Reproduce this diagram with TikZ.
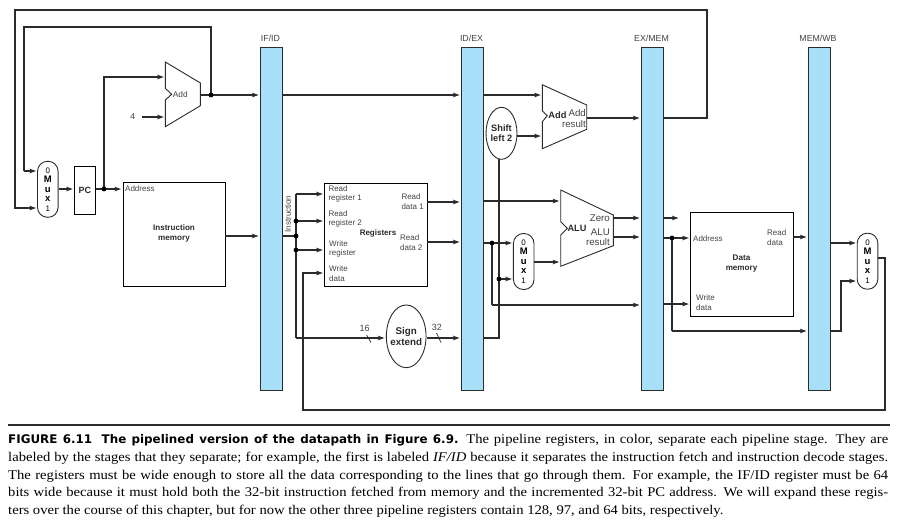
\documentclass[tikz,border=0pt]{standalone}
\usepackage{fontspec}
\setmainfont{Liberation Sans}
\newfontfamily\capserif[FakeStretch=1.1]{Liberation Serif}
\newfontfamily\capheavy{DejaVu Sans}
\usetikzlibrary{arrows.meta,shapes.geometric}
\definecolor{regblue}{HTML}{A8E0FA}
\definecolor{ink}{HTML}{2B2B2B}
\definecolor{softink}{HTML}{444444}
\tikzset{
  wire/.style={draw=ink,line width=1.3pt,line join=miter},
  arr/.style={wire,-{Stealth[length=6.5pt,width=4.5pt,inset=1.5pt]},shorten >=1.5pt},
  pipereg/.style={draw=ink,fill=regblue,line width=0.9pt,minimum width=22.4pt,minimum height=343pt,inner sep=0pt,anchor=north west},
  block/.style={draw=black,line width=0.9pt,fill=white,inner sep=0pt,anchor=north west},
  muxbox/.style={draw=ink,line width=0.9pt,fill=white,rounded corners=10pt,minimum width=20.6pt,minimum height=56pt,inner sep=0pt,align=center,font=\fontsize{9.5}{9.5}\selectfont\bfseries},
  oval/.style={draw=ink,line width=0.9pt,fill=white,ellipse,inner sep=-3pt,align=center},
  aluface/.style={draw=ink,line width=0.9pt,fill=white,line join=miter},
  dot/.style={circle,fill=black,inner sep=0pt,minimum size=4.8pt},
  lab/.style={inner sep=0pt,text=softink,align=left,font=\fontsize{8}{9.8}\selectfont},
  labc/.style={inner sep=0pt,text=softink,align=center,font=\fontsize{9.7}{11}\selectfont},
  blab/.style={inner sep=0pt,text=ink,align=center,font=\fontsize{8.1}{10}\selectfont\bfseries},
  regname/.style={inner sep=0pt,text=softink,font=\fontsize{8.8}{10}\selectfont},
}
\newcommand{\muxtext}{{\mdseries\fontsize{8}{9.5}\selectfont 0}\\M\\u\\x\\{\mdseries\fontsize{8}{9.5}\selectfont 1}}
\begin{document}
\begin{tikzpicture}[x=1pt,y=-1pt]
\useasboundingbox (0,0) rectangle (901,523);
\fill[white] (0,0) rectangle (901,523);

% pipeline registers
\node[pipereg] (ifid) at (260,47) {};
\node[pipereg] (idex) at (461,47) {};
\node[pipereg] (exmem) at (641,47) {};
\node[pipereg] (memwb) at (808,47) {};
\node[regname] (ifidl) at (270.5,38) {IF/ID};
\node[regname] (idexl) at (471.5,38) {ID/EX};
\node[regname] (exmeml) at (651.5,38) {EX/MEM};
\node[regname] (memwbl) at (818,38) {MEM/WB};

% blocks
\node[muxbox] (muxa) at (47.8,189.3) {\muxtext};
\node[block,minimum width=20.4pt,minimum height=48pt,font=\fontsize{9}{10}\selectfont\bfseries,text=ink] (pc) at (74.3,166) {PC};
\node[block,minimum width=102pt,minimum height=104pt] (imem) at (122.5,182) {};
\node[block,minimum width=102.4pt,minimum height=103.6pt] (regs) at (324.3,182.7) {};
\node[block,minimum width=102.4pt,minimum height=104pt] (dmem) at (690.3,212.3) {};
\node[muxbox] (muxb) at (523.7,261.5) {\muxtext};
\node[muxbox] (muxc) at (867.5,261.2) {\muxtext};
\node[oval,minimum width=39.7pt,minimum height=62.7pt,font=\fontsize{9.8}{10.5}\selectfont\bfseries,text=ink] (sign) at (406.2,336.3) {Sign\\extend};
\node[oval,minimum width=31pt,minimum height=52pt,font=\fontsize{9.3}{10.5}\selectfont\bfseries,text=ink] (shift) at (501.5,133.3) {Shift\\left 2};

% adders and ALU
\draw[aluface] (165.3,62) -- (200.4,83) -- (200.4,105.7) -- (165.3,126.7) -- (165.3,100) -- (171.7,94.3) -- (165.3,88.3) -- cycle;
\draw[aluface] (542.3,84.7) -- (586.7,105) -- (586.7,129.3) -- (542.3,148.7) -- (542.3,121.7) -- (547.3,115.7) -- (542.3,110.7) -- cycle;
\draw[aluface] (560.7,190) -- (613.3,215) -- (613.3,245.7) -- (560.7,266.3) -- (560.7,235) -- (567.3,228.3) -- (560.7,221.7) -- cycle;

% ports and bends
\coordinate (addaout) at (200.4,95);
\coordinate (addain) at (165.3,77);
\coordinate (addafour) at (165.3,117);
\coordinate (addbout) at (586.7,118);
\coordinate (addbina) at (542.3,95);
\coordinate (addbinb) at (542.3,136);
\coordinate (aluina) at (560.7,201);
\coordinate (aluinb) at (560.7,262);
\coordinate (aluzero) at (613.3,218);
\coordinate (aluout) at (613.3,237);
\coordinate (fourstart) at (142,117);
\coordinate (outertop) at (15,10);
\coordinate (outerright) at (707,10);
\coordinate (innertop) at (24,27);
\coordinate (muxaina) at (37.5,171);
\coordinate (muxainb) at (37.5,208);
\coordinate (rega) at (324.3,194);
\coordinate (regb) at (324.3,221);
\coordinate (regc) at (324.3,250);
\coordinate (regd) at (324.3,273);
\coordinate (rdone) at (426.7,202);
\coordinate (rdtwo) at (426.7,242);
\coordinate (dmaddr) at (690.3,238);
\coordinate (dmwrite) at (690.3,304);
\coordinate (dmread) at (792.7,237);
\coordinate (muxbina) at (513.4,243);
\coordinate (muxbinb) at (513.4,279);
\coordinate (muxcina) at (857.2,243);
\coordinate (muxcinb) at (857.2,281);
\coordinate (busbase) at (296,338);
\coordinate (bustop) at (296,194);
\coordinate (wbright) at (885,258);
\coordinate (wbbottom) at (885,410);
\coordinate (wbleft) at (303,410);
\coordinate (shiftjoin) at (499,338);
\coordinate (hazardstep) at (841,331);
\coordinate (shiftbottom) at (499,159);
\coordinate (zerostub) at (680,218);
\coordinate (rdtwodown) at (492,305);
\coordinate (aludown) at (672,331);

% junction positions
\coordinate (cpc) at (104,189);
\coordinate (cadd) at (211,95);
\coordinate (cbusa) at (296,221);
\coordinate (cbusb) at (296,236);
\coordinate (cbusc) at (296,250);
\coordinate (crdtwo) at (492,243);
\coordinate (cshift) at (499,279);
\coordinate (calu) at (672,238);

% connectors: fetch
\draw[wire] (addaout) -- (cadd);
\draw[arr] (cadd) -- (cadd -| ifid.west);
\draw[wire] (cadd) -- (innertop -| cadd) -- (innertop) -- (innertop |- muxaina);
\draw[arr] (innertop |- muxaina) -- (muxaina);
\draw[arr] (exmem.east |- addbout) -- (outerright |- addbout) -- (outerright) -- (outertop) -- (outertop |- muxainb) -- (muxainb);
\draw[arr] (muxa.east |- cpc) -- (pc.west |- cpc);
\draw[wire] (pc.east |- cpc) -- (cpc);
\draw[arr] (cpc) -- (imem.west |- cpc);
\draw[arr] (cpc) -- (cpc |- addain) -- (addain);
\draw[arr] (fourstart) -- (addafour);
\draw[arr] (imem.east |- cbusb) -- (cbusb -| ifid.west);
\draw[arr] (ifid.east |- cadd) -- (idex.west |- cadd);
\draw[arr] (idex.east |- addbina) -- (addbina);

% connectors: decode
\draw[wire] (ifid.east |- cbusb) -- (cbusb);
\draw[wire] (bustop) -- (busbase);
\draw[arr] (bustop) -- (rega);
\draw[arr] (cbusa) -- (regb);
\draw[arr] (cbusc) -- (regc);
\draw[arr] (busbase) -- (busbase -| sign.west);
\draw[arr] (busbase -| sign.east) -- (busbase -| idex.west);
\draw[arr] (rdone) -- (rdone -| idex.west);
\draw[arr] (rdtwo) -- (rdtwo -| idex.west);
\draw[arr] (wbright -| muxc.east) -- (wbright) -- (wbbottom) -- (wbleft) -- (wbleft |- regd) -- (regd);

% connectors: execute
\draw[arr] (idex.east |- aluina) -- (aluina);
\draw[wire] (idex.east |- crdtwo) -- (crdtwo);
\draw[arr] (crdtwo) -- (muxbina);
\draw[wire] (crdtwo) -- (rdtwodown);
\draw[arr] (rdtwodown) -- (rdtwodown -| exmem.west);
\draw[wire] (idex.east |- shiftjoin) -- (shiftjoin) -- (shiftbottom);
\draw[arr] (cshift) -- (muxbinb);
\draw[arr] (shift.east |- addbinb) -- (addbinb);
\draw[arr] (muxb.east |- aluinb) -- (aluinb);
\draw[arr] (addbout) -- (addbout -| exmem.west);
\draw[arr] (aluzero) -- (aluzero -| exmem.west);
\draw[arr] (aluout) -- (aluout -| exmem.west);

% connectors: memory and write back
\draw[arr] (exmem.east |- zerostub) -- (zerostub);
\draw[wire] (exmem.east |- calu) -- (calu);
\draw[arr] (calu) -- (dmaddr);
\draw[wire] (calu) -- (aludown);
\draw[arr] (aludown) -- (aludown -| memwb.west);
\draw[arr] (exmem.east |- dmwrite) -- (dmwrite);
\draw[arr] (dmread) -- (dmread -| memwb.west);
\draw[arr] (memwb.east |- muxcina) -- (muxcina);
\draw[arr] (memwb.east |- aludown) -- (hazardstep) -- (hazardstep |- muxcinb) -- (muxcinb);

% junction dots, on top of the wires
\node[dot] (jpc) at (cpc) {};
\node[dot] (jadd) at (cadd) {};
\node[dot] (jbusa) at (cbusa) {};
\node[dot] (jbusb) at (cbusb) {};
\node[dot] (jbusc) at (cbusc) {};
\node[dot] (jrdtwo) at (crdtwo) {};
\node[dot] (jshift) at (cshift) {};
\node[dot] (jalu) at (calu) {};

% bus width ticks
\coordinate (tka) at (366.7,335);
\coordinate (tkb) at (371,342.5);
\coordinate (tkc) at (436.5,333);
\coordinate (tkd) at (441,342.5);
\draw[draw=ink,line width=0.7pt] (tka) -- (tkb);
\draw[draw=ink,line width=0.7pt] (tkc) -- (tkd);
\node[lab,font=\fontsize{9}{10}\selectfont] (wsixteen) at (364.5,328) {16};
\node[lab,font=\fontsize{9}{10}\selectfont] (wthirtytwo) at (436.8,327.8) {32};

% labels
\node[lab,font=\fontsize{8.6}{10}\selectfont] (four) at (132.8,117) {4};
\node[lab,font=\fontsize{8.3}{10}\selectfont] (addatxt) at (180.3,94.3) {Add};
\node[lab,anchor=west] (imaddr) at (125,189) {Address};
\node[blab] (imtxt) at (174,233) {Instruction\\memory};
\node[lab,rotate=90] (instr) at (288,214) {Instruction};
\node[lab,anchor=west] (rra) at (328.3,194) {Read\\register 1};
\node[lab,anchor=west] (rrb) at (328.3,219) {Read\\register 2};
\node[lab,anchor=west] (wr) at (329,249) {Write\\register};
\node[lab,anchor=west] (wd) at (329,274) {Write\\data};
\node[blab,font=\fontsize{8}{10}\selectfont\bfseries] (regtxt) at (378,233) {Registers};
\node[lab,anchor=west] (rda) at (401.3,202) {Read\\data 1};
\node[lab,anchor=west] (rdb) at (400,243) {Read\\data 2};
\node[blab,font=\fontsize{9.3}{10}\selectfont\bfseries] (addbtxt) at (557.5,115.5) {Add};
\node[labc,align=right,anchor=east,font=\fontsize{9.7}{10.5}\selectfont] (addres) at (586,118.5) {Add\\result};
\node[blab,font=\fontsize{9.2}{10}\selectfont\bfseries] (alutxt) at (577,228) {ALU};
\node[labc,anchor=east] (zero) at (610,218) {Zero};
\node[labc,align=right,anchor=east,font=\fontsize{9.7}{10.5}\selectfont] (alures) at (610,237) {ALU\\result};
\node[lab,anchor=west] (dmaddrtxt) at (693,239) {Address};
\node[lab,anchor=west] (dmrd) at (767,237.7) {Read\\data};
\node[blab] (dmtxt) at (741.5,264) {Data\\memory};
\node[lab,anchor=west] (dmwr) at (696,303) {Write\\data};

% caption
\coordinate (rulea) at (8,425);
\coordinate (ruleb) at (890,425);
\draw[draw=ink,line width=1.8pt] (rulea) -- (ruleb);
\node[anchor=north west,inner sep=0pt,text width=880pt,align=justify,text=black,font=\capserif\fontsize{13.3}{17.55}\selectfont] (caption) at (8,434.5) {\sloppy
{\capheavy\bfseries\fontsize{11.9}{17.55}\selectfont FIGURE 6.11\hspace{0.8em}The pipelined version of the datapath in Figure 6.9.} The pipeline registers, in color, separate each pipeline stage. They are\linebreak
labeled by the stages that they separate; for example, the first is labeled \textit{IF/ID} because it separates the instruction fetch and instruction decode stages.\linebreak
The registers must be wide enough to store all the data corresponding to the lines that go through them. For example, the IF/ID register must be 64\linebreak
bits wide because it must hold both the 32-bit instruction fetched from memory and the incremented 32-bit PC address. We will expand these regis-\linebreak
ters over the course of this chapter, but for now the other three pipeline registers contain 128, 97, and 64 bits, respectively.};
\end{tikzpicture}
\end{document}
